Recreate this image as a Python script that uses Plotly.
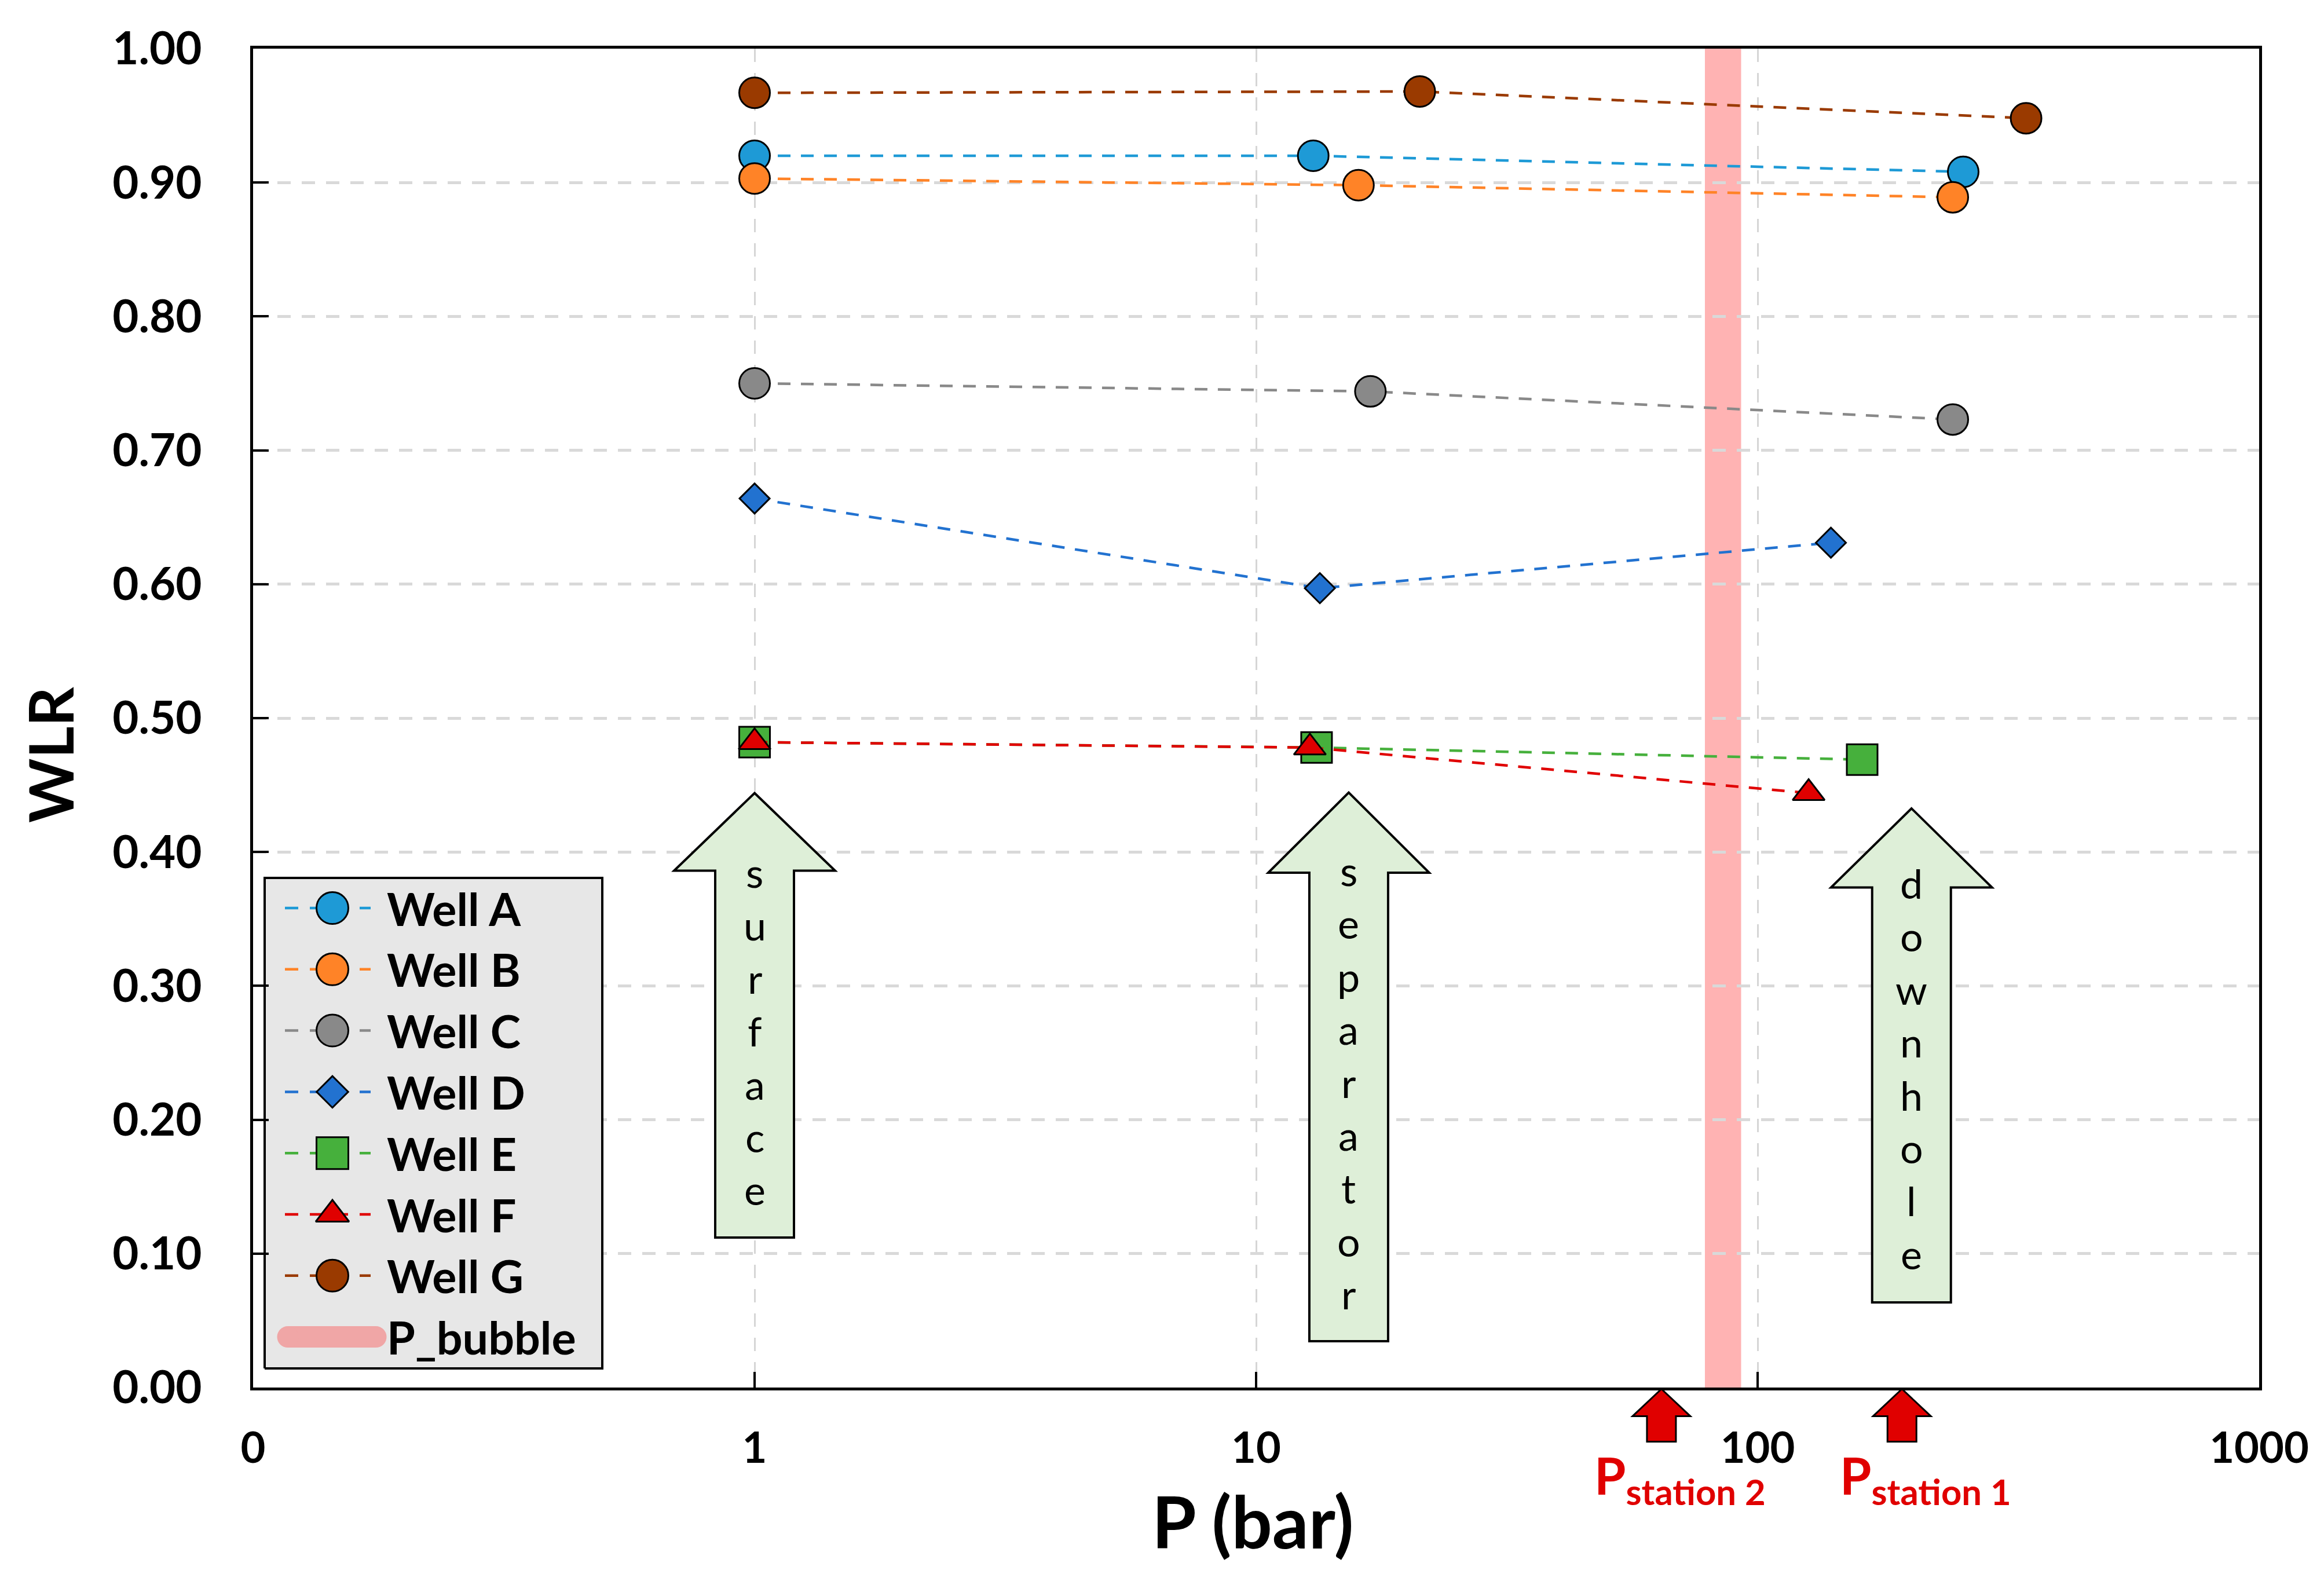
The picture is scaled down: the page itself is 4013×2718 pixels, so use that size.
import numpy as np
import plotly.graph_objects as go

# ---------------- data ----------------
wells = ["Well A", "Well B", "Well C", "Well D", "Well E", "Well F", "Well G"]
p_A = [1.0, 13.0, 257.0];   wlr_A = [0.920, 0.920, 0.908]
p_B = [1.0, 16.0, 245.0];   wlr_B = [0.903, 0.898, 0.889]
p_C = [1.0, 16.9, 245.0];   wlr_C = [0.750, 0.744, 0.723]
p_D = [1.0, 13.4, 140.0];   wlr_D = [0.664, 0.597, 0.631]
p_E = [1.0, 13.2, 161.6];   wlr_E = [0.482, 0.478, 0.469]
p_F = [1.0, 12.8, 126.4];   wlr_F = [0.482, 0.478, 0.444]
p_G = [1.0, 21.2, 343.0];   wlr_G = [0.967, 0.968, 0.948]
pressures = [p_A, p_B, p_C, p_D, p_E, p_F, p_G]
wlrs = [wlr_A, wlr_B, wlr_C, wlr_D, wlr_E, wlr_F, wlr_G]

p_bubble_range = [78.5, 92.7]
stage_names = ["surface", "separator", "downhole"]
stage_p = [1.0, 15.3, 202.7]
station_names = ["station 2", "station 1"]
station_p = [64.3, 194.0]

x_tickvals = [0.1, 1, 10, 100, 1000]
x_ticktext = ["0", "1", "10", "100", "1000"]
y_tickvals = [0.0, 0.1, 0.2, 0.3, 0.4, 0.5, 0.6, 0.7, 0.8, 0.9, 1.0]

# ---------------- styles ----------------
colors = ["#1E9AD6", "#FF8327", "#898989", "#2272D0", "#46B03C", "#E00000", "#9A3A00"]
symbols = ["circle", "circle", "circle", "diamond", "square", "triangle-up", "circle"]
msizes = [53, 53, 53, 40, 53, 48, 53]

W, H = 4013, 2718
L, R, T, B = 429, 120, 76, 330
PW, PH = W - L - R, H - T - B
XMIN, XMAX = -1, 3
FONT = "Lato"


def px_x(xp):
    return (xp - L) / PW


def px_y(yp):
    return (H - B - yp) / PH


def dxp(p):
    return p / PW


def xd(v):
    return (np.log10(v) - XMIN) / (XMAX - XMIN)


fig = go.Figure()

for name, p, w, c, s, ms in zip(wells, pressures, wlrs, colors, symbols, msizes):
    fig.add_trace(go.Scatter(
        x=p, y=w, name=name, mode="lines+markers",
        line=dict(color=c, width=4.5, dash="22px,18px"),
        marker=dict(symbol=s, size=ms, color=c, line=dict(color="black", width=3)),
        showlegend=False,
    ))

shapes = []
annotations = []

# P_bubble band
shapes.append(dict(type="rect", xref="paper", yref="paper",
                   x0=xd(p_bubble_range[0]), x1=xd(p_bubble_range[1]), y0=0, y1=1,
                   fillcolor="#FFB3B3", line=dict(width=0), layer="below"))

# green block arrows with stacked letters
arrow_geo = {  # tip, head-base, bottom (fraction of plot height), first letter y px
    "surface": (0.444, 0.386, 0.112, 1498),
    "separator": (0.4444, 0.3845, 0.0346, 1495),
    "downhole": (0.4325, 0.3735, 0.0636, 1517),
}
HH, SH = 139, 68
for nm, pv in zip(stage_names, stage_p):
    tip, base, bot, y_first = arrow_geo[nm]
    cx = xd(pv)
    hh, sh = dxp(HH), dxp(SH)
    path = (f"M{cx},{tip} L{cx + hh},{base} L{cx + sh},{base} L{cx + sh},{bot} "
            f"L{cx - sh},{bot} L{cx - sh},{base} L{cx - hh},{base} Z")
    shapes.append(dict(type="path", xref="paper", yref="paper", path=path,
                       fillcolor="#DEEFD8", line=dict(color="black", width=4), layer="above"))
    for i, ch in enumerate(nm):
        annotations.append(dict(xref="paper", yref="paper", x=cx, y=px_y(y_first + i * 91.4),
                                text=ch, showarrow=False, xanchor="center", yanchor="middle",
                                font=dict(family=FONT, size=70, color="black")))

# red station arrows below the axis
RH, RS = 50, 25
r_tip, r_base, r_bot = px_y(2390.5), px_y(2437.6), px_y(2481.6)
label_dx = [-118, -109]
for nm, pv, ldx in zip(station_names, station_p, label_dx):
    cx = xd(pv)
    hh, sh = dxp(RH), dxp(RS)
    path = (f"M{cx},{r_tip} L{cx + hh},{r_base} L{cx + sh},{r_base} L{cx + sh},{r_bot} "
            f"L{cx - sh},{r_bot} L{cx - sh},{r_base} L{cx - hh},{r_base} Z")
    shapes.append(dict(type="path", xref="paper", yref="paper", path=path,
                       fillcolor="#E00000", line=dict(color="black", width=3), layer="above"))
    annotations.append(dict(xref="paper", yref="paper", x=cx + dxp(ldx), y=px_y(2545),
                            text=f"P<sub>{nm}</sub>", showarrow=False,
                            xanchor="left", yanchor="middle",
                            font=dict(family=FONT, size=88, color="#E00000", weight="bold")))

# axis titles
annotations.append(dict(xref="paper", yref="paper", x=px_x(78), y=px_y(1296), text="WLR",
                        textangle=-90, showarrow=False, xanchor="center", yanchor="middle",
                        font=dict(family=FONT, size=106, color="black", weight="bold")))
annotations.append(dict(xref="paper", yref="paper", x=px_x(2155), y=px_y(2618), text="P (bar)",
                        showarrow=False, xanchor="center", yanchor="middle",
                        font=dict(family=FONT, size=124, color="black", weight="bold")))

# ---------------- manual legend (overlay axes in plot fractions) ----------------
lx0, lx1, ly0, ly1 = px_x(449), px_x(1032), px_y(2355), px_y(1508)
fig.add_trace(go.Scatter(x=[lx0, lx1, lx1, lx0, lx0], y=[ly0, ly0, ly1, ly1, ly0],
                         mode="lines", fill="toself", fillcolor="#E7E7E7",
                         line=dict(color="black", width=4), xaxis="x2", yaxis="y2",
                         showlegend=False, hoverinfo="skip"))
row_y = [px_y(1560 + i * 105.8) for i in range(8)]
leg_sizes = [55, 55, 55, 42, 55, 50, 55]
for i, (name, c, s, ms) in enumerate(zip(wells, colors, symbols, leg_sizes)):
    fig.add_trace(go.Scatter(x=[px_x(484), px_x(632)], y=[row_y[i], row_y[i]], mode="lines",
                             line=dict(color=c, width=4.5, dash="23px,20px"),
                             xaxis="x2", yaxis="y2", showlegend=False, hoverinfo="skip"))
    fig.add_trace(go.Scatter(x=[px_x(566)], y=[row_y[i]], mode="markers",
                             marker=dict(symbol=s, size=ms, color=c,
                                         line=dict(color="black", width=3)),
                             xaxis="x2", yaxis="y2", showlegend=False, hoverinfo="skip"))
    annotations.append(dict(xref="paper", yref="paper", x=px_x(658), y=row_y[i], text=name,
                            showarrow=False, xanchor="left", yanchor="middle",
                            font=dict(family=FONT, size=79, color="black", weight="bold")))
fig.add_trace(go.Scatter(x=[px_x(489), px_x(641)], y=[row_y[7], row_y[7]], mode="lines+markers",
                         line=dict(color="#F0A6A6", width=37),
                         marker=dict(size=37, color="#F0A6A6", line=dict(width=0)),
                         xaxis="x2", yaxis="y2", showlegend=False, hoverinfo="skip"))
annotations.append(dict(xref="paper", yref="paper", x=px_x(658), y=row_y[7], text="P_bubble",
                        showarrow=False, xanchor="left", yanchor="middle",
                        font=dict(family=FONT, size=79, color="black", weight="bold")))

xtickfont = dict(family=FONT, size=74, color="black", weight="bold")
ytickfont = dict(family=FONT, size=78, color="black", weight="bold")
fig.update_layout(
    width=W, height=H,
    margin=dict(l=L, r=R, t=T, b=B, autoexpand=False),
    paper_bgcolor="white", plot_bgcolor="rgba(0,0,0,0)",
    showlegend=False,
    shapes=shapes, annotations=annotations,
    xaxis=dict(type="log", range=[XMIN, XMAX], tickvals=x_tickvals, ticktext=x_ticktext,
               showline=True, linecolor="black", linewidth=5, mirror=True,
               ticks="inside", ticklen=27, tickwidth=4, tickcolor="black",
               showgrid=True, gridcolor="#D6D6D6", gridwidth=3, griddash="23px,19px",
               zeroline=False, tickfont=xtickfont, ticklabelstandoff=36),
    yaxis=dict(range=[0, 1], tickvals=y_tickvals, tickformat=".2f",
               showline=True, linecolor="black", linewidth=5, mirror=True,
               ticks="inside", ticklen=27, tickwidth=4, tickcolor="black",
               showgrid=True, gridcolor="#D9D9D9", gridwidth=4.5, griddash="23px,19px",
               zeroline=False, tickfont=ytickfont, ticklabelstandoff=68),
    xaxis2=dict(domain=[0, 1], range=[0, 1], overlaying="x", visible=False, anchor="y2"),
    yaxis2=dict(domain=[0, 1], range=[0, 1], overlaying="y", visible=False, anchor="x2"),
)

fig.write_html("out.html")
